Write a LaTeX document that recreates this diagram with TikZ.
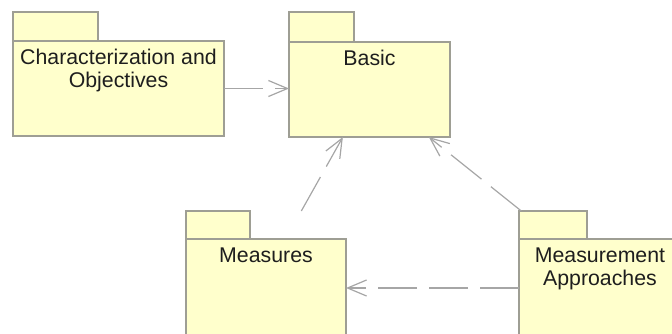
\documentclass[tikz,border=0pt]{standalone}
\usepackage{fontspec}
\setmainfont{Liberation Sans}
\usetikzlibrary{arrows.meta,fit}
\definecolor{pkgfill}{HTML}{FFFFCC}
\definecolor{pkgline}{HTML}{9E9E94}
\definecolor{depline}{HTML}{A6A6A6}
\definecolor{pkgtext}{HTML}{1E1E1E}
\tikzset{
  pkgpart/.style={draw=pkgline, fill=pkgfill, line width=1.2pt, inner sep=0pt, outer sep=0pt},
  pkgbody/.style={pkgpart, anchor=north west},
  pkgtab/.style={pkgpart, anchor=south west},
  pkgframe/.style={inner sep=0pt, outer sep=0pt},
  pkglabel/.style={anchor=base, inner sep=0pt, align=center, text=pkgtext,
    font=\fontsize{21.3pt}{22.5pt}\selectfont},
  dep/.style={draw=depline, line width=1.2pt, dash pattern=on 39pt off 12pt,
    -{Straight Barb[length=19pt,width=16pt,line width=1.2pt]}},
}
\begin{document}
\begin{tikzpicture}[x=1pt,y=-1pt]
\useasboundingbox (0,0) rectangle (672,333);
\clip (0,0) rectangle (672,333);

% Characterization and Objectives (label base = last line)
\node[pkgbody, minimum width=211pt, minimum height=95pt] (charB) at (13,41) {};
\node[pkgtab, minimum width=85pt, minimum height=29pt] (charT) at (charB.north west) {};
\node[pkgframe, fit=(charT)(charB)] (char) {};
\node[pkglabel] (charL) at ([yshift=-46pt]charB.north) {Characterization and\\Objectives};

% Basic
\node[pkgbody, minimum width=161pt, minimum height=95pt] (basicB) at (289,42) {};
\node[pkgtab, minimum width=65pt, minimum height=30pt] (basicT) at (basicB.north west) {};
\node[pkgframe, fit=(basicT)(basicB)] (basic) {};
\node[pkglabel] (basicL) at ([yshift=-23pt]basicB.north) {Basic};

% Measures
\node[pkgbody, minimum width=160pt, minimum height=98pt] (measB) at (186,239) {};
\node[pkgtab, minimum width=64pt, minimum height=28pt] (measT) at (measB.north west) {};
\node[pkgframe, fit=(measT)(measB)] (meas) {};
\node[pkglabel] (measL) at ([yshift=-23pt]measB.north) {Measures};

% Measurement Approaches
\node[pkgbody, minimum width=162pt, minimum height=98pt] (apprB) at (519,239) {};
\node[pkgtab, minimum width=68pt, minimum height=28pt] (apprT) at (apprB.north west) {};
\node[pkgframe, fit=(apprT)(apprB)] (appr) {};
\node[pkglabel] (apprL) at ([yshift=-46pt]apprB.north) {Measurement\\Approaches};

% dependencies
\draw[dep] (charB.east) -- (charB.east -| basicB.west);
\draw[dep] (meas) -- (basicB);
\draw[dep] (appr) -- (basicB);
\draw[dep] (apprB.west) -- (apprB.west -| measB.east);
\end{tikzpicture}
\end{document}
